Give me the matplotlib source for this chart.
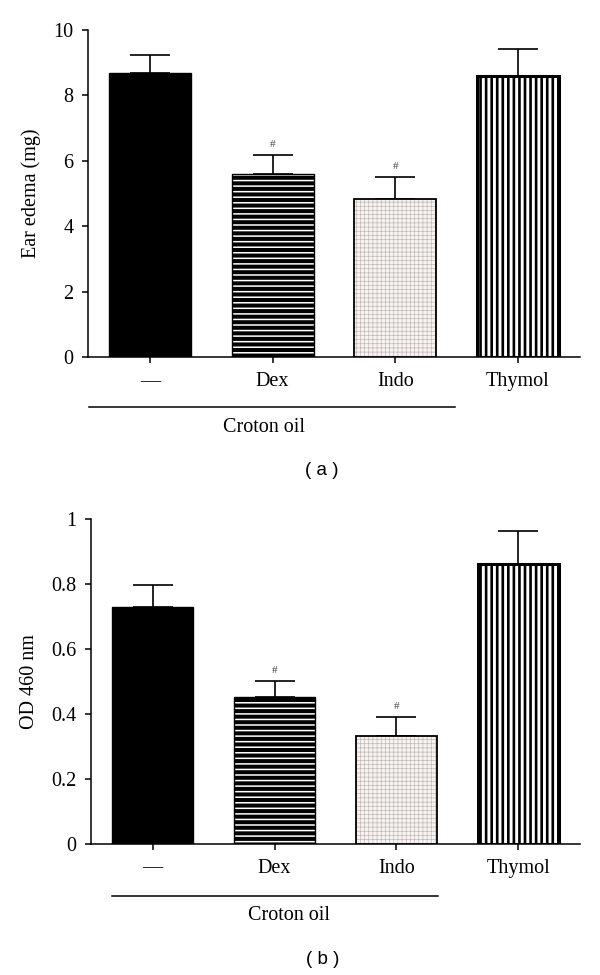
import numpy as np
import matplotlib
matplotlib.use("Agg")
import matplotlib.pyplot as plt
from matplotlib.transforms import blended_transform_factory

# data
groups = ["\u2014", "Dex", "Indo", "Thymol"]
edema_mean = [8.68, 5.60, 4.83, 8.60]
edema_sem = [0.55, 0.58, 0.68, 0.83]
od_mean = [0.729, 0.452, 0.332, 0.862]
od_sem = [0.068, 0.050, 0.060, 0.101]
signif = ["", "#", "#", ""]

plt.rcParams['font.family'] = ['Liberation Serif', 'DejaVu Serif']

# fill style per bar: (facecolor, hatch, hatch colour, hatch width)
styles = [
    ("black", None, "black", 1.0),
    ("black", "---", "white", 1.1),
    ("#f6f3f0", "++++", "#bdb4b4", 0.45),
    ("white", "|||", "black", 1.9),
]
edge_widths = [1.0, 1.0, 1.3, 2.2]


def hatched_bars(ax, x, vals, width):
    for i, (fc, hatch, hc, hlw) in enumerate(styles):
        with plt.rc_context({'hatch.linewidth': hlw}):
            b = ax.bar(x[i], vals[i], width, color=fc, edgecolor=hc,
                       hatch=hatch, linewidth=0, zorder=3)
            for p in b:
                if hasattr(p, "set_hatch_linewidth"):
                    p.set_hatch_linewidth(hlw)
        ax.bar(x[i], vals[i], width, fill=False, edgecolor="black",
               linewidth=edge_widths[i], zorder=4)


def panel(fig, rect, vals, errs, ymax, yticks, ylabel, line_span, line_y,
          croton_x, croton_y, label_y, tag, hash_off):
    ax = fig.add_axes(rect)
    x = np.arange(len(groups))
    ax.errorbar(x, vals, yerr=[np.zeros(len(errs)), errs], fmt='none',
                ecolor='black', elinewidth=1.2, capsize=14.5, capthick=1.2,
                zorder=2)
    hatched_bars(ax, x, vals, 0.67)
    for i, s in enumerate(signif):
        if s:
            ax.text(x[i], vals[i] + errs[i] + hash_off, s, ha='center',
                    va='bottom', fontsize=8, color='#444444')
    ax.set_xlim(-0.505, 3.505)
    ax.set_ylim(0, ymax)
    ax.set_yticks(yticks)
    ax.set_yticklabels([f"{t:g}" for t in yticks])
    ax.set_xticks(x)
    ax.set_xticklabels(groups)
    ax.set_ylabel(ylabel, fontsize=14.5, labelpad=9)
    for s in ['top', 'right']:
        ax.spines[s].set_visible(False)
    for s in ['left', 'bottom']:
        ax.spines[s].set_linewidth(1.1)
    ax.tick_params(axis='both', direction='out', length=4.5, width=1.1,
                   labelsize=14.5, pad=6)
    tr = blended_transform_factory(ax.transData, fig.transFigure)
    ax.plot(line_span, [line_y, line_y], color='black', lw=1.1,
            transform=tr, clip_on=False)
    ax.text(croton_x, croton_y, "Croton oil", transform=tr, ha='center',
            va='center', fontsize=14.5)
    fig.text(0.537, label_y, tag, ha='center', va='center', fontsize=13.5,
             family=['Liberation Sans', 'DejaVu Sans'])
    return ax


fig = plt.figure(figsize=(6, 9.75), dpi=100)

panel(fig, [0.1467, 0.6338, 0.82, 0.3354], edema_mean, edema_sem, 10,
      [0, 2, 4, 6, 8, 10], "Ear edema (mg)", [-0.5, 2.49], 1 - 407 / 975,
      0.93, 1 - 428 / 975, 1 - 470 / 975, "( a )", 0.18)

panel(fig, [0.1517, 0.1344, 0.815, 0.3333], od_mean, od_sem, 1.0,
      [0, 0.2, 0.4, 0.6, 0.8, 1.0], "OD 460 nm", [-0.33, 2.34], 1 - 896 / 975,
      1.12, 1 - 915 / 975, 1 - 959 / 975, "( b )", 0.018)

fig.savefig("out.png", dpi=100)
